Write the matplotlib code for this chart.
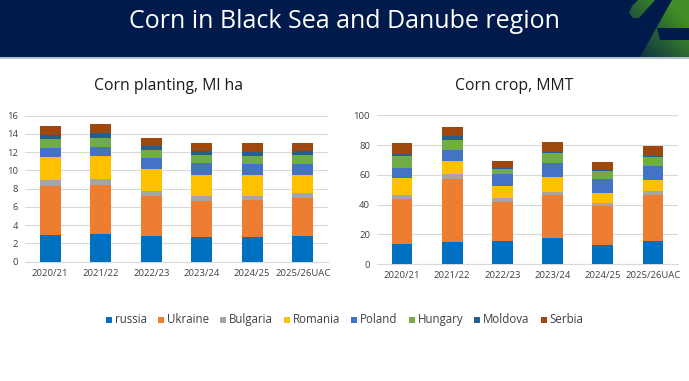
import matplotlib.pyplot as plt
import numpy as np
from matplotlib.patches import Polygon, Rectangle

plt.rcParams['font.family'] = ['Open Sans', 'DejaVu Sans']

seasons = ['2020/21', '2021/22', '2022/23', '2023/24', '2024/25', '2025/26UAC']
countries = ['russia', 'Ukraine', 'Bulgaria', 'Romania', 'Poland', 'Hungary', 'Moldova', 'Serbia']
colors = ['#0070C0', '#ED7D31', '#A5A5A5', '#FFC000', '#4472C4', '#70AD47', '#255E91', '#9E480E']

# corn planting, Ml ha (one list per country, by season)
area_russia = [2.9, 3.0, 2.85, 2.7, 2.75, 2.8]
area_ukraine = [5.4, 5.45, 4.35, 4.0, 4.0, 4.2]
area_bulgaria = [0.6, 0.6, 0.5, 0.5, 0.45, 0.5]
area_romania = [2.6, 2.5, 2.5, 2.35, 2.3, 1.95]
area_poland = [0.95, 1.0, 1.2, 1.25, 1.2, 1.25]
area_hungary = [0.95, 1.0, 0.8, 0.85, 0.9, 0.95]
area_moldova = [0.45, 0.5, 0.45, 0.45, 0.45, 0.5]
area_serbia = [1.0, 1.0, 0.95, 0.9, 0.95, 0.9]

# corn crop, MMT
crop_russia = [13.5, 14.8, 15.5, 17.3, 12.6, 15.7]
crop_ukraine = [30.2, 42.6, 26.4, 29.1, 26.4, 30.5]
crop_bulgaria = [2.9, 3.4, 2.3, 2.0, 1.8, 2.7]
crop_romania = [11.0, 8.3, 8.0, 10.3, 7.2, 7.8]
crop_poland = [6.7, 7.6, 8.6, 9.2, 8.9, 9.0]
crop_hungary = [8.6, 6.5, 2.9, 6.5, 5.4, 6.0]
crop_moldova = [0.9, 2.9, 0.9, 1.2, 1.2, 0.9]
crop_serbia = [7.8, 5.8, 4.5, 6.7, 5.1, 7.0]

area = [area_russia, area_ukraine, area_bulgaria, area_romania,
        area_poland, area_hungary, area_moldova, area_serbia]
crop = [crop_russia, crop_ukraine, crop_bulgaria, crop_romania,
        crop_poland, crop_hungary, crop_moldova, crop_serbia]

W, H = 689, 381
navy = '#001A4B'
fig = plt.figure(figsize=(W / 100, H / 100), dpi=100, facecolor='white')

# header banner
fig.patches.append(Rectangle((0, 1 - 57 / H), 1, 57 / H, transform=fig.transFigure,
                             facecolor=navy, edgecolor='none', zorder=-2))
fig.patches.append(Rectangle((0, 1 - 59 / H), 1, 2 / H, transform=fig.transFigure,
                             facecolor='#B8BFCC', edgecolor='none', zorder=-2))

# green logo corner, gradient clipped to polygons
lax = fig.add_axes([600 / W, 1 - 57 / H, 89 / W, 57 / H], zorder=5)
lax.set_axis_off()
gx, gy = np.meshgrid(np.linspace(0, 1, 90), np.linspace(0, 1, 60))
t = np.clip(0.35 + 0.9 * gx - 0.55 * gy, 0, 1)
c0 = np.array([0x00, 0x1A, 0x4B]) / 255
c1 = np.array([0x40, 0x8C, 0x26]) / 255
img = c0 + (c1 - c0) * t[..., None]
for pts in ([(629, 13), (632, 6), (638, 0), (655, 0), (639, 18), (633, 18)],
            [(640, 57), (672, 0), (689, 0), (689, 57)]):
    im = lax.imshow(img, extent=(600, 689, 57, 0), aspect='auto', zorder=1)
    clip = Polygon(pts, closed=True, transform=lax.transData, facecolor='none')
    im.set_clip_path(clip)
lax.add_patch(Polygon([(657, 28), (660, 40), (689, 40), (689, 28)], closed=True,
                      facecolor=navy, edgecolor='none', zorder=2))
lax.set_xlim(600, 689)
lax.set_ylim(57, 0)

fig.text(0.5, 1 - 21 / H, 'Corn in Black Sea and Danube region', color='white',
         fontsize=18, ha='center', va='center')


def draw(ax, data, ymax, step, title, tx):
    x = np.arange(len(seasons))
    bottom = np.zeros(len(seasons))
    for name, vals, c in zip(countries, data, colors):
        ax.bar(x, vals, 0.41, bottom=bottom, color=c, label=name, zorder=3)
        bottom += np.array(vals)
    ax.set_xlim(-0.5, len(seasons) - 0.5)
    ax.set_ylim(0, ymax)
    ax.set_yticks(np.arange(0, ymax + 0.1, step))
    ax.set_xticks(x)
    ax.set_xticklabels(seasons)
    ax.grid(axis='y', color='#D9D9D9', linewidth=0.8, zorder=0)
    for s in ['top', 'right', 'left']:
        ax.spines[s].set_visible(False)
    ax.spines['bottom'].set_color('#D9D9D9')
    ax.tick_params(length=0, labelsize=6.8, colors='#404040', pad=5)
    fig.text(tx, 1 - 86 / H, title, fontsize=11.3, ha='center', va='center', color='#1a1a1a')


ax1 = fig.add_axes([25 / W, 1 - 261.7 / H, 303 / W, 146 / H])
draw(ax1, area, 16, 2, 'Corn planting, Ml ha', 168 / W)
ax2 = fig.add_axes([377 / W, 1 - 264 / H, 301 / W, 148.7 / H])
draw(ax2, crop, 100, 20, 'Corn crop, MMT', 514 / W)

# legend row, laid out item by item so all labels share one baseline
renderer = fig.canvas.get_renderer()
texts = []
widths = []
for name in countries:
    tt = fig.text(0, 0, name, fontsize=8.3, color='#404040', va='baseline')
    widths.append(tt.get_window_extent(renderer).width)
    texts.append(tt)
sq, gap, space = 6, 3, 11
total = sum(sq + gap + w for w in widths) + space * (len(countries) - 1)
xpos = (W - total) / 2
ybase = 323
for tt, w, c in zip(texts, widths, colors):
    fig.patches.append(Rectangle((xpos / W, 1 - (ybase - 0.5) / H), sq / W, sq / H,
                                 transform=fig.transFigure, facecolor=c, edgecolor='none'))
    tt.set_position(((xpos + sq + gap) / W, 1 - ybase / H))
    xpos += sq + gap + w + space

plt.savefig('out.png', dpi=100, facecolor='white')
